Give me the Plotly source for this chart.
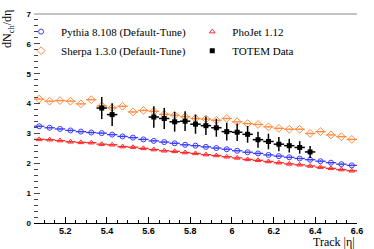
import plotly.graph_objects as go

# ---- data ----
mc_eta = [5.075, 5.125, 5.175, 5.225, 5.275, 5.325, 5.375, 5.425, 5.475, 5.525,
          5.575, 5.625, 5.675, 5.725, 5.775, 5.825, 5.875, 5.925, 5.975, 6.025,
          6.075, 6.125, 6.175, 6.225, 6.275, 6.325, 6.375, 6.425, 6.475, 6.525, 6.575]
pythia = [3.24, 3.19, 3.15, 3.10, 3.06, 3.03, 3.01, 2.96, 2.90, 2.86,
          2.80, 2.75, 2.71, 2.67, 2.62, 2.59, 2.55, 2.51, 2.47, 2.42,
          2.37, 2.33, 2.28, 2.24, 2.20, 2.16, 2.12, 2.07, 2.02, 1.97, 1.93]
sherpa = [4.15, 4.08, 4.10, 4.08, 3.99, 4.13, 3.92, 3.86, 3.91, 3.72,
          3.77, 3.74, 3.64, 3.61, 3.56, 3.50, 3.48, 3.44, 3.50, 3.39,
          3.33, 3.30, 3.22, 3.17, 3.14, 3.14, 3.00, 3.06, 2.95, 2.89, 2.80]
phojet = [2.80, 2.79, 2.76, 2.72, 2.70, 2.69, 2.64, 2.62, 2.56, 2.54,
          2.50, 2.46, 2.42, 2.40, 2.36, 2.33, 2.29, 2.26, 2.22, 2.18,
          2.13, 2.10, 2.06, 2.02, 1.98, 1.95, 1.91, 1.87, 1.83, 1.79, 1.75]
mc_bin_half = [0.025] * len(mc_eta)
mc_err = [0.03] * len(mc_eta)

totem_eta = [5.375, 5.425, 5.625, 5.675, 5.725, 5.775, 5.825, 5.875, 5.925,
             5.975, 6.025, 6.075, 6.125, 6.175, 6.225, 6.275, 6.325, 6.375]
totem = [3.85, 3.63, 3.55, 3.50, 3.39, 3.41, 3.31, 3.26, 3.19,
         3.06, 3.04, 2.97, 2.79, 2.73, 2.64, 2.59, 2.53, 2.38]
totem_err = [0.37, 0.38, 0.36, 0.35, 0.33, 0.33, 0.32, 0.31, 0.30,
             0.30, 0.29, 0.28, 0.27, 0.26, 0.24, 0.23, 0.21, 0.20]
totem_bin_half = [0.025] * len(totem_eta)

x_ticks = [5.2, 5.4, 5.6, 5.8, 6.0, 6.2, 6.4, 6.6]
x_ticklabels = ["5.2", "5.4", "5.6", "5.8", "6", "6.2", "6.4", "6.6"]

fig = go.Figure()

def mc_trace(name, y, color, symbol, size, legend):
    return go.Scatter(
        x=mc_eta, y=y, name=name, mode="markers", legend=legend,
        marker=dict(symbol=symbol, size=size, color=color,
                    line=dict(color=color, width=1)),
        error_x=dict(type="data", array=mc_bin_half, color=color, thickness=1.3, width=0),
        error_y=dict(type="data", array=mc_err, color=color, thickness=1, width=0),
    )

fig.add_trace(mc_trace("Pythia 8.108 (Default-Tune)", pythia, "#3a3aff", "circle-open", 5, "legend"))
fig.add_trace(mc_trace("Sherpa 1.3.0 (Default-Tune)", sherpa, "#ff8c40", "diamond-open", 6, "legend"))
fig.add_trace(mc_trace("PhoJet 1.12", phojet, "#ff2a2a", "triangle-up-open", 5, "legend2"))
fig.add_trace(go.Scatter(
    x=totem_eta, y=totem, name="TOTEM Data", mode="markers", legend="legend2",
    marker=dict(symbol="square", size=5, color="black"),
    error_x=dict(type="data", array=totem_bin_half, color="black", thickness=1.5, width=0),
    error_y=dict(type="data", array=totem_err, color="black", thickness=1.5, width=0),
))

serif = "Liberation Serif, Times New Roman, serif"
sans = "Liberation Sans, Arial, sans-serif"

leg_common = dict(orientation="v", xanchor="left", yanchor="top",
                  font=dict(family=serif, size=11, color="black"),
                  itemwidth=30, bgcolor="rgba(0,0,0,0)", traceorder="normal",
                  tracegroupgap=0)

fig.update_layout(
    width=374, height=249,
    margin=dict(l=34, r=17, t=10, b=26),
    paper_bgcolor="white", plot_bgcolor="white",
    showlegend=True,
    legend=dict(x=-0.04, y=0.985, **leg_common),
    legend2=dict(x=0.49, y=0.985, **leg_common),
    xaxis=dict(range=[5.05, 6.6], tickvals=x_ticks, ticktext=x_ticklabels,
               ticks="inside", ticklen=6, tickcolor="black", tickwidth=1,
               showline=True, linecolor="black", linewidth=1,
               showgrid=False, zeroline=False, ticklabelstandoff=-1,
               tickfont=dict(family=sans, size=9, color="black", weight="bold"),
               minor=dict(dtick=0.05, tick0=5.0, ticks="inside", ticklen=3,
                          tickcolor="black", showgrid=False)),
    yaxis=dict(range=[0, 7], dtick=1, tick0=0,
               ticks="inside", ticklen=6, tickcolor="#444", tickwidth=1,
               showline=False, showgrid=False, zeroline=False,
               ticklabelstandoff=2,
               tickfont=dict(family=sans, size=8, color="black", weight="bold"),
               minor=dict(dtick=0.2, ticks="inside", ticklen=4,
                          tickcolor="#444", showgrid=False)),
    shapes=[dict(type="line", xref="paper", yref="paper", x0=0, x1=1, y0=1, y1=1,
                 line=dict(color="#888", width=1))],
    annotations=[
        dict(text="dN<sub>ch</sub>/dη", xref="paper", yref="paper",
             x=-0.08, y=1.03, xanchor="center", yanchor="top",
             textangle=-90, showarrow=False,
             font=dict(family=serif, size=12, color="black")),
        dict(text="Track |η|", xref="paper", yref="paper",
             x=1.0, y=-0.05, xanchor="right", yanchor="top", showarrow=False,
             font=dict(family=serif, size=12, color="black")),
    ],
)

fig.write_html("out.html", config={"displayModeBar": False},
               post_script="document.body.style.margin='0';")
